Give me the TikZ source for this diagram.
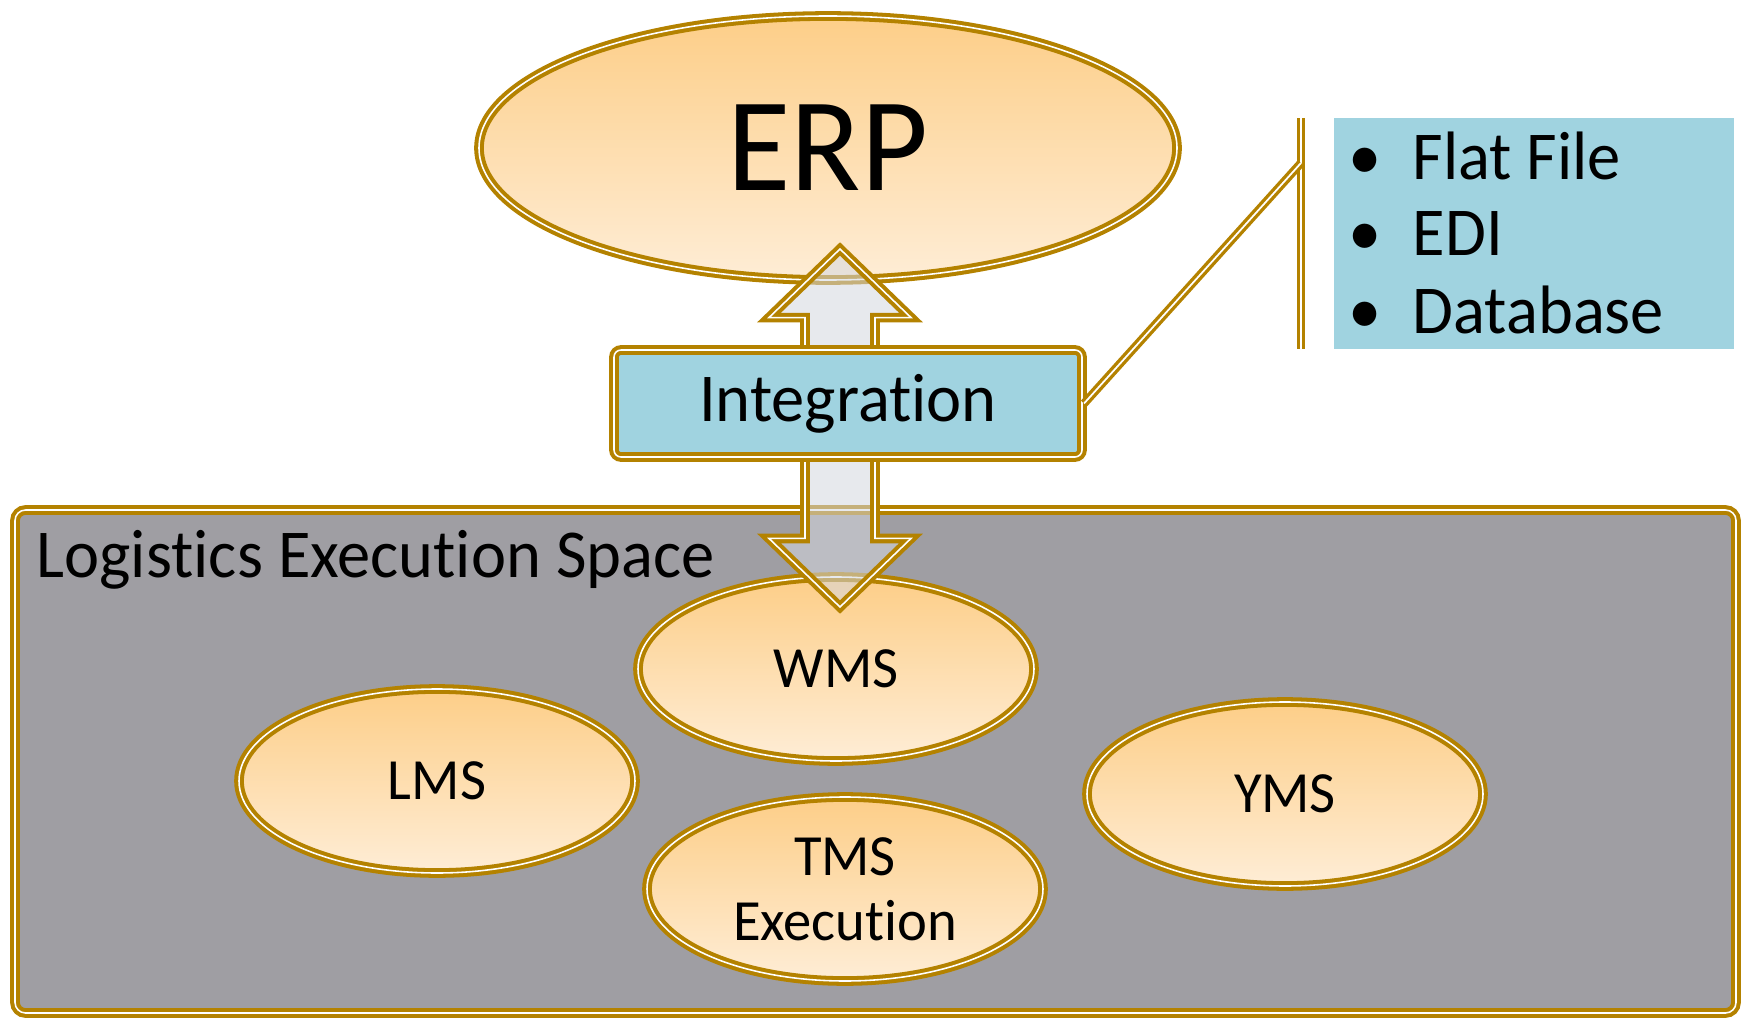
\documentclass[tikz,border=0pt]{standalone}
\usepackage{fontspec}
\setmainfont{Carlito}[FakeStretch=0.97, Ligatures=NoCommon]
\usepackage{tikz}
\usetikzlibrary{shapes.geometric,shapes.arrows}
\definecolor{rim}{HTML}{B48200}
\definecolor{peach}{HTML}{FDCE88}
\definecolor{cream}{HTML}{FEEDD6}
\definecolor{slate}{HTML}{9F9EA3}
\definecolor{sky}{HTML}{A0D3E0}
\definecolor{haze}{HTML}{D4D7DF}

\begin{document}
\begin{tikzpicture}
  \tikzstyle{rimmed}=[draw=rim, double=white, line width=1.15pt, double distance=0.45pt]
  \tikzstyle{bubble}=[ellipse, rimmed, top color=peach, bottom color=cream, inner sep=0pt, align=center]
  \tikzstyle{wire}=[draw=rim, double=white, line width=0.95pt, double distance=0.5pt]
  \useasboundingbox (0,0) rectangle (17.43,10.21);
  % execution space
  \node[rimmed, fill=slate, rounded corners=3pt, minimum width=17.21cm, minimum height=5.03cm] (space) at (8.755,2.595) {};
  \node[anchor=base west, inner sep=0pt, font=\fontsize{19.5}{23}\selectfont] (spacelabel) at (0.36,4.44) {Logistics Execution Space};
  \node[bubble, minimum width=6.98cm, minimum height=2.64cm, font=\fontsize{38}{44}\selectfont] (erp) at (8.28,8.73) {ERP};
  \foreach \n/\x/\y/\t in {wms/8.36/3.52/WMS, lms/4.37/2.40/LMS, yms/12.85/2.27/YMS, tms/8.45/1.32/{TMS\\Execution}} {
    \node[bubble, minimum width=3.96cm, minimum height=1.84cm, font=\fontsize{16.6}{18.5}\selectfont] (\n) at (\x,\y) {\t};
  }
  % two way link
  \node[rimmed, fill=haze, fill opacity=0.55, double arrow, rotate=90, inner sep=0.33cm, minimum height=3.58cm, double arrow head extend=0.36cm, double arrow tip angle=92] (link) at (8.40,5.93) {};
  \node[rimmed, fill=sky, rounded corners=2pt, minimum width=4.68cm, minimum height=1.07cm, font=\fontsize{19.5}{23}\selectfont] (integ) at (8.48,6.175) {Integration};
  % formats
  \node[fill=sky, minimum width=4cm, minimum height=2.31cm] (listbox) at (15.34,7.875) {};
  \foreach \i/\y/\t in {1/8.41/Flat File, 2/7.65/EDI, 3/6.88/Database} {
    \node[anchor=base, inner sep=0pt, font=\fontsize{19.5}{23}\selectfont] (dot\i) at (13.65,\y) {\textbullet};
    \node[anchor=base west, inner sep=0pt, font=\fontsize{19.5}{23}\selectfont] (item\i) at (14.12,\y) {\t};
  }
  \coordinate (bartop) at (13.01,9.03);
  \coordinate (barbot) at (13.01,6.72);
  \coordinate (barjoin) at (13.01,8.58);
  \draw[wire] (bartop) -- (barbot);
  \draw[wire] (integ.east) -- (barjoin);
\end{tikzpicture}
\end{document}
